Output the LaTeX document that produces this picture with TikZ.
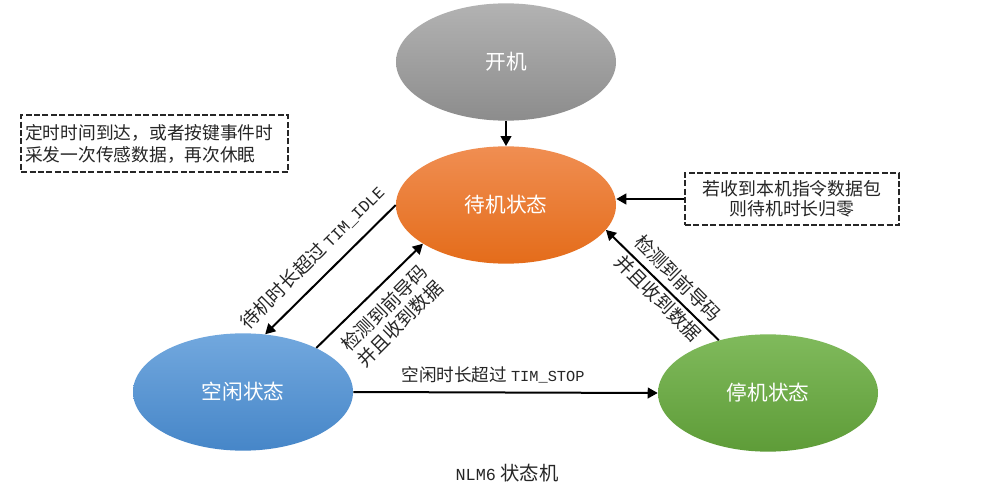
\documentclass[tikz,border=0pt]{standalone}
\usepackage{fontspec}
\setmainfont{Noto Sans CJK SC}
\newfontfamily\mylatf[Scale=0.87]{Liberation Mono}
\newcommand\mylat[1]{{\mylatf #1}}
\usetikzlibrary{shapes.geometric,arrows.meta}
\definecolor{txt}{HTML}{262626}
\tikzset{
  st/.style={ellipse, inner sep=0pt, minimum width=165pt, minimum height=88pt,
    text=white, font=\fontsize{15.5}{18}\selectfont},
  arr/.style={line width=1.5pt, -{Triangle[length=7.5pt,width=8pt]}},
  dbox/.style={draw=black!85, line width=1.1pt, dash pattern=on 4.5pt off 1.8pt,
    text=txt, font=\fontsize{13.3}{16.5}\selectfont},
  lab/.style={text=txt, font=\fontsize{14}{16.5}\selectfont, align=center, inner sep=0pt},
}
\begin{document}
\begin{tikzpicture}[x=0.75pt,y=-0.75pt]
\useasboundingbox[fill=white] (0,0) rectangle (1000,499);
\node[st, top color=black!30, bottom color=black!45] (kj) at (506,62) {开机};
\node[st, top color={rgb,255:red,240;green,142;blue,82}, bottom color={rgb,255:red,228;green,108;blue,26}] (dj) at (506,205) {待机状态};
\node[st, top color={rgb,255:red,114;green,168;blue,222}, bottom color={rgb,255:red,70;green,134;blue,200}] (kx) at (243,392) {空闲状态};
\node[st, top color={rgb,255:red,128;green,186;blue,92}, bottom color={rgb,255:red,94;green,156;blue,56}] (tj) at (768,393) {停机状态};

\node[dbox, minimum width=200pt, minimum height=42.5pt, text width=194pt, align=left, inner xsep=2pt] (lbox) at (154.5,143.5) {定时时间到达，或者按键事件时\\采发一次传感数据，再次休眠};
\node[dbox, minimum width=160.5pt, minimum height=39pt, align=center, font=\fontsize{13.4}{15}\selectfont] (rbox) at (792,199) {若收到本机指令数据包\\则待机时长归零};

\draw[arr] (kj.south) -- (dj.north);
\draw[arr] (dj.west) -- (kx.69);
\draw[arr] (kx.31) -- (dj.205);
\draw[arr] (tj.133) -- (dj.346);
\draw[arr] (kx.east) -- (tj.west);
\draw[arr] (rbox.west) -- (rbox.west -| dj.east);

\node[lab, rotate=45] (l1) at (312,257) {待机时长超过 \mylat{TIM\_IDLE}};
\node[lab, rotate=45] (l2) at (392,316) {检测到前导码\\并且收到数据};
\node[lab, rotate=-45, font=\fontsize{14}{21}\selectfont] (l3) at (668,288) {检测到前导码\\并且收到数据};
\node[lab, font=\fontsize{13.2}{15}\selectfont] (l4) at (493,375) {空闲时长超过 \mylat{TIM\_STOP}};
\node[lab, font=\fontsize{14.5}{16}\selectfont] (title) at (507,473) {\mylat{NLM6} 状态机};
\end{tikzpicture}
\end{document}
